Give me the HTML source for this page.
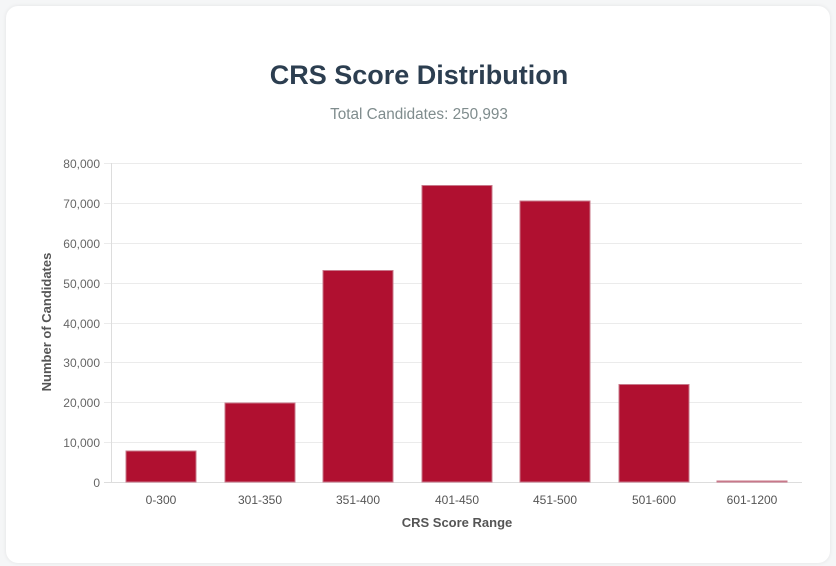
<!DOCTYPE html>
<html><head><meta charset="utf-8"><style>
html,body{margin:0;padding:0;background:#f5f6f7;width:836px;height:566px;overflow:hidden}
.card{position:absolute;left:6px;top:6px;width:824px;height:557px;background:#fff;border-radius:12px;box-shadow:0 0 4px rgba(0,0,0,0.08)}
svg{position:absolute;left:0;top:0}
</style></head><body>
<div class="card"></div>
<svg width="836" height="566" xmlns="http://www.w3.org/2000/svg" font-family="Liberation Sans, sans-serif">
<text x="419" y="84" text-anchor="middle" font-size="27" font-weight="bold" fill="#2c3e50">CRS Score Distribution</text>
<text x="419" y="119" text-anchor="middle" font-size="15.3" fill="#7f8c8d">Total Candidates: 250,993</text>
<g stroke="#ebebeb" stroke-width="1">
<line x1="104" y1="163.5" x2="802" y2="163.5"/>
<line x1="104" y1="203.5" x2="802" y2="203.5"/>
<line x1="104" y1="243.5" x2="802" y2="243.5"/>
<line x1="104" y1="283.5" x2="802" y2="283.5"/>
<line x1="104" y1="323.5" x2="802" y2="323.5"/>
<line x1="104" y1="362.5" x2="802" y2="362.5"/>
<line x1="104" y1="402.5" x2="802" y2="402.5"/>
<line x1="104" y1="442.5" x2="802" y2="442.5"/>
</g>
<line x1="111.5" y1="163" x2="111.5" y2="482" stroke="#ddd"/>
<line x1="104" y1="482.5" x2="802" y2="482.5" stroke="#ddd"/>
<g font-size="12" fill="#666" text-anchor="end">
<text x="100" y="168">80,000</text>
<text x="100" y="208">70,000</text>
<text x="100" y="248">60,000</text>
<text x="100" y="288">50,000</text>
<text x="100" y="328">40,000</text>
<text x="100" y="367">30,000</text>
<text x="100" y="407">20,000</text>
<text x="100" y="447">10,000</text>
<text x="100" y="487">0</text>
</g>
<g fill="#b01030" stroke="#c8788a" stroke-width="1">
<rect x="126" y="451" width="70" height="31"/>
<rect x="225" y="403" width="70" height="79"/>
<rect x="323" y="270.5" width="70" height="211.5"/>
<rect x="422" y="185.5" width="70" height="296.5"/>
<rect x="520" y="201" width="70" height="281"/>
<rect x="619" y="384.5" width="70" height="97.5"/>
<rect x="717" y="481" width="70" height="1"/>
</g>
<g font-size="12" fill="#555" text-anchor="middle">
<text x="161" y="504">0-300</text>
<text x="260" y="504">301-350</text>
<text x="358" y="504">351-400</text>
<text x="457" y="504">401-450</text>
<text x="555" y="504">451-500</text>
<text x="654" y="504">501-600</text>
<text x="752" y="504">601-1200</text>
</g>
<text x="457" y="527" text-anchor="middle" font-size="13" font-weight="bold" fill="#555">CRS Score Range</text>
<text transform="translate(51,322) rotate(-90)" text-anchor="middle" font-size="13" font-weight="bold" fill="#555">Number of Candidates</text>
</svg>
</body></html>
